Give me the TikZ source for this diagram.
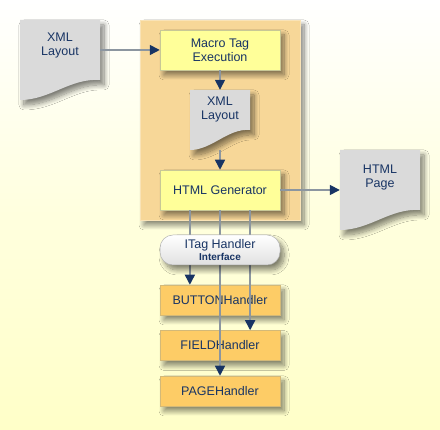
\documentclass[tikz,border=0pt]{standalone}
\usepackage{fontspec}
\setmainfont{Liberation Sans}
\usetikzlibrary{positioning,calc,arrows.meta,shadows,shadows.blur,backgrounds}

\definecolor{navy}{RGB}{24,52,100}
\definecolor{linegray}{RGB}{140,150,160}
\definecolor{paleyellow}{RGB}{255,255,200}
\definecolor{boxyellow}{RGB}{255,255,153}
\definecolor{boxedge}{RGB}{200,200,150}
\definecolor{hostorange}{RGB}{247,215,152}
\definecolor{handlerorange}{RGB}{253,204,102}
\definecolor{docgray}{RGB}{218,218,218}

\begin{document}
\begin{tikzpicture}[x=1pt,y=1pt,font=\fontsize{12.5}{14}\selectfont,
every node/.style={text=navy, align=center},
softshadow/.style={blur shadow={shadow xshift=4pt,shadow yshift=-5pt,shadow blur steps=10,shadow blur radius=5pt,shadow opacity=50}}]

\tikzstyle{stage}=[rectangle, minimum width=120pt, minimum height=40pt, fill=boxyellow, draw=boxedge, line width=0.5pt, softshadow]
\tikzstyle{handler}=[rectangle, minimum width=120pt, minimum height=30pt, fill=handlerorange, draw=boxedge!80!orange, line width=0.5pt, softshadow]
\tikzstyle{docfill}=[fill=docgray, softshadow]
\tikzstyle{flow}=[-{Triangle[length=10pt,width=10pt,color=navy]}, draw=linegray, line width=1.5pt]

%background
\shade[top color=white, bottom color=paleyellow, middle color=paleyellow!60!white] (0,0) rectangle (440,430);

%host box
\node[rectangle, minimum width=160pt, minimum height=200pt, fill=hostorange, draw=hostorange!70!white, softshadow]
(host) at (220,310) {};

\node[stage] (macro) at (220,380) {Macro Tag\\Execution};
\node[stage] (gen) at (220,240) {HTML Generator};

%documents
\fill[docfill] (20,410) -- (100,410) -- (100,350) .. controls (70,352) and (50,330) .. (20,330) -- cycle;
\node[minimum width=80pt, minimum height=80pt] (xmlin) at (60,370) {};
\node at (60,384) {XML\\Layout};

\fill[docfill] (190,340) -- (250,340) -- (250,300) .. controls (228,302) and (212,280) .. (190,280) -- cycle;
\node[minimum width=60pt, minimum height=60pt] (xmlout) at (220,310) {};
\node at (220,320) {XML\\Layout};

\fill[docfill] (340,280) -- (420,280) -- (420,220) .. controls (390,222) and (370,200) .. (340,200) -- cycle;
\node[minimum width=80pt, minimum height=80pt] (page) at (380,240) {};
\node at (380,252) {HTML\\Page};

%handlers
\node[handler] (button) at (220,130) {BUTTONHandler};
\node[handler] (field) [below=15pt of button] {FIELDHandler};
\node[handler] (pagehd) [below=15pt of field] {PAGEHandler};

\draw[flow] (xmlin.east |- macro) -- (macro.west);
\draw[flow] (macro) -- (xmlout.north);
\draw[flow] (xmlout.south) -- (gen.north);
\draw[flow] (gen.east) -- (page.west |- gen.east);

\coordinate (tapa) at ($(gen.south)!0.5!(gen.south west)$);
\coordinate (tapb) at (gen.south);
\coordinate (tapc) at ($(gen.south)!0.5!(gen.south east)$);

\draw[flow] (tapa) -- (tapa |- button.north);
\draw[flow] (tapc) -- (tapc |- field.north);
\draw[flow] (tapb) -- (tapb |- pagehd.north);

%interface
\node[rectangle, rounded corners=13pt, minimum width=120pt, minimum height=30pt,
top color=white, bottom color=white!88!black, draw=gray!60, line width=0.5pt, softshadow,
inner sep=1pt]
(itag) at (220,180) {ITag Handler\\[-2pt]{\fontsize{10}{11}\selectfont\bfseries Interface}};

\useasboundingbox (0,0) rectangle (440,430);
\end{tikzpicture}
\end{document}
